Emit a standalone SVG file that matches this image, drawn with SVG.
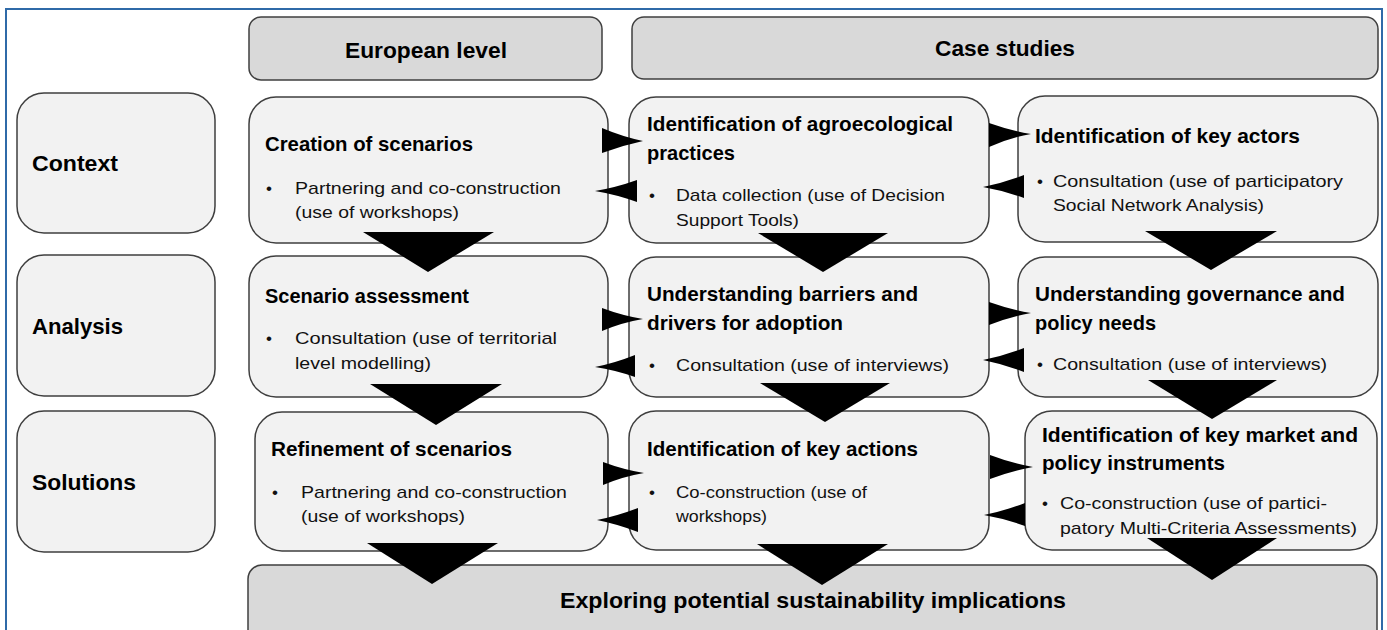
<svg xmlns="http://www.w3.org/2000/svg" width="1387" height="630" viewBox="0 0 1387 630">
<style>
.box{fill:#f2f2f2;stroke:#3f3f3f;stroke-width:1.5}
.hdr{fill:#d9d9d9;stroke:#3f3f3f;stroke-width:1.5}
.t{font-family:'Liberation Sans Narrow','Liberation Sans',Arial,sans-serif;font-weight:bold;font-size:21px;fill:#000}
.h{font-family:'Liberation Sans Narrow','Liberation Sans',Arial,sans-serif;font-weight:bold;font-size:22px;fill:#000}
.b{font-family:'Liberation Sans Narrow','Liberation Sans',Arial,sans-serif;font-size:17px;fill:#111}
.arr{fill:#000}
</style>
<rect x="0" y="0" width="1387" height="630" fill="#ffffff"/>
<rect x="6" y="9" width="1376" height="640" fill="none" stroke="#2f6aa8" stroke-width="2"/>

<g id="hdr-european">
<rect class="hdr" x="249" y="17" width="353" height="63" rx="12"/>
<text class="h" x="426" y="58" text-anchor="middle" textLength="162" lengthAdjust="spacingAndGlyphs">European level</text>
</g>
<g id="hdr-case">
<rect class="hdr" x="632" y="17" width="746" height="62" rx="12"/>
<text class="h" x="1005" y="56" text-anchor="middle" textLength="140" lengthAdjust="spacingAndGlyphs">Case studies</text>
</g>

<g id="row-context">
<rect class="box" x="17" y="93" width="198" height="140" rx="27"/>
<text class="h" x="32" y="171" textLength="86" lengthAdjust="spacingAndGlyphs">Context</text>
</g>
<g id="row-analysis">
<rect class="box" x="17" y="255" width="198" height="141" rx="27"/>
<text class="h" x="32" y="334" textLength="91" lengthAdjust="spacingAndGlyphs">Analysis</text>
</g>
<g id="row-solutions">
<rect class="box" x="17" y="411" width="198" height="141" rx="27"/>
<text class="h" x="32" y="490" textLength="104" lengthAdjust="spacingAndGlyphs">Solutions</text>
</g>

<g id="a1">
<rect class="box" x="249" y="97" width="359" height="146" rx="27"/>
<text class="t" x="265" y="151" textLength="208" lengthAdjust="spacingAndGlyphs">Creation of scenarios</text>
<text class="b" x="266" y="194">•</text>
<text class="b" x="295" y="194" textLength="266" lengthAdjust="spacingAndGlyphs">Partnering and co-construction</text>
<text class="b" x="295" y="218" textLength="164" lengthAdjust="spacingAndGlyphs">(use of workshops)</text>
</g>
<g id="b1">
<rect class="box" x="629" y="97" width="360" height="146" rx="27"/>
<text class="t" x="647" y="131" textLength="306" lengthAdjust="spacingAndGlyphs">Identification of agroecological</text>
<text class="t" x="647" y="160" textLength="88" lengthAdjust="spacingAndGlyphs">practices</text>
<text class="b" x="649" y="201">•</text>
<text class="b" x="676" y="201" textLength="269" lengthAdjust="spacingAndGlyphs">Data collection (use of Decision</text>
<text class="b" x="676" y="226" textLength="123" lengthAdjust="spacingAndGlyphs">Support Tools)</text>
</g>
<g id="c1">
<rect class="box" x="1018" y="96" width="360" height="146" rx="27"/>
<text class="t" x="1035" y="143" textLength="265" lengthAdjust="spacingAndGlyphs">Identification of key actors</text>
<text class="b" x="1037" y="187">•</text>
<text class="b" x="1053" y="187" textLength="290" lengthAdjust="spacingAndGlyphs">Consultation (use of participatory</text>
<text class="b" x="1053" y="211" textLength="211" lengthAdjust="spacingAndGlyphs">Social Network Analysis)</text>
</g>

<g id="a2">
<rect class="box" x="249" y="256" width="359" height="141" rx="27"/>
<text class="t" x="265" y="303" textLength="204" lengthAdjust="spacingAndGlyphs">Scenario assessment</text>
<text class="b" x="266" y="344">•</text>
<text class="b" x="295" y="344" textLength="262" lengthAdjust="spacingAndGlyphs">Consultation (use of territorial</text>
<text class="b" x="295" y="369" textLength="136" lengthAdjust="spacingAndGlyphs">level modelling)</text>
</g>
<g id="b2">
<rect class="box" x="629" y="257" width="360" height="140" rx="27"/>
<text class="t" x="647" y="301" textLength="271" lengthAdjust="spacingAndGlyphs">Understanding barriers and</text>
<text class="t" x="647" y="330" textLength="196" lengthAdjust="spacingAndGlyphs">drivers for adoption</text>
<text class="b" x="649" y="371">•</text>
<text class="b" x="676" y="371" textLength="273" lengthAdjust="spacingAndGlyphs">Consultation (use of interviews)</text>
</g>
<g id="c2">
<rect class="box" x="1018" y="257" width="360" height="140" rx="27"/>
<text class="t" x="1035" y="301" textLength="310" lengthAdjust="spacingAndGlyphs">Understanding governance and</text>
<text class="t" x="1035" y="330" textLength="121" lengthAdjust="spacingAndGlyphs">policy needs</text>
<text class="b" x="1037" y="370">•</text>
<text class="b" x="1053" y="370" textLength="274" lengthAdjust="spacingAndGlyphs">Consultation (use of interviews)</text>
</g>

<g id="a3">
<rect class="box" x="255" y="412" width="353" height="139" rx="27"/>
<text class="t" x="271" y="456" textLength="241" lengthAdjust="spacingAndGlyphs">Refinement of scenarios</text>
<text class="b" x="272" y="498">•</text>
<text class="b" x="301" y="498" textLength="266" lengthAdjust="spacingAndGlyphs">Partnering and co-construction</text>
<text class="b" x="301" y="522" textLength="164" lengthAdjust="spacingAndGlyphs">(use of workshops)</text>
</g>
<g id="b3">
<rect class="box" x="629" y="411" width="360" height="139" rx="27"/>
<text class="t" x="647" y="456" textLength="271" lengthAdjust="spacingAndGlyphs">Identification of key actions</text>
<text class="b" x="649" y="498">•</text>
<text class="b" x="676" y="498" textLength="191" lengthAdjust="spacingAndGlyphs">Co-construction (use of</text>
<text class="b" x="676" y="522" textLength="91" lengthAdjust="spacingAndGlyphs">workshops)</text>
</g>
<g id="c3">
<rect class="box" x="1025" y="411" width="352" height="139" rx="27"/>
<text class="t" x="1042" y="442" textLength="316" lengthAdjust="spacingAndGlyphs">Identification of key market and</text>
<text class="t" x="1042" y="470" textLength="183" lengthAdjust="spacingAndGlyphs">policy instruments</text>
<text class="b" x="1042" y="509">•</text>
<text class="b" x="1060" y="509" textLength="267" lengthAdjust="spacingAndGlyphs">Co-construction (use of partici-</text>
<text class="b" x="1060" y="534" textLength="297" lengthAdjust="spacingAndGlyphs">patory Multi-Criteria Assessments)</text>
</g>

<g id="bottom">
<rect class="hdr" x="248" y="565" width="1129" height="90" rx="14"/>
<text class="h" x="813" y="608" text-anchor="middle" font-size="23" textLength="506" lengthAdjust="spacingAndGlyphs">Exploring potential sustainability implications</text>
</g>

<g id="connectors" class="arr">
<polygon points="363,232 494,232 428,272"/>
<polygon points="758,233 888,233 823,272"/>
<polygon points="1145,231 1277,231 1211,270"/>
<polygon points="370,384 502,384 436,425"/>
<polygon points="760,383 890,383 825,422"/>
<polygon points="1148,380 1277,380 1212,419"/>
<polygon points="367,543 498,543 432,584"/>
<polygon points="757,544 888,544 822,585"/>
<polygon points="1147,538 1277,538 1212,580"/>

<path d="M602,128 Q622,136.5 643,141 Q622,145.5 602,153 Z"/>
<path d="M637,180 Q616,187.5 595,191 Q616,194.5 637,202 Z"/>
<path d="M989,123 Q1010,130.5 1031,134 Q1010,137.5 989,147 Z"/>
<path d="M1024,175 Q1003,183 983,187 Q1003,190.5 1024,198 Z"/>
<path d="M602,308 Q622,315.5 643,319 Q622,322.5 602,331 Z"/>
<path d="M635,355 Q615,363 595,367 Q615,370 635,377 Z"/>
<path d="M989,302 Q1010,309.5 1031,313 Q1010,316.5 989,325 Z"/>
<path d="M1024,348 Q1003,356 983,360 Q1003,364 1024,372 Z"/>
<path d="M603,462 Q623,469.5 644,473 Q623,476.5 603,485 Z"/>
<path d="M638,508 Q617,516 597,520 Q617,524 638,532 Z"/>
<path d="M990,455 Q1011,463 1033,467 Q1011,471 990,479 Z"/>
<path d="M1025,503 Q1004,511 984,515 Q1004,518.5 1025,526 Z"/>
</g>
</svg>
